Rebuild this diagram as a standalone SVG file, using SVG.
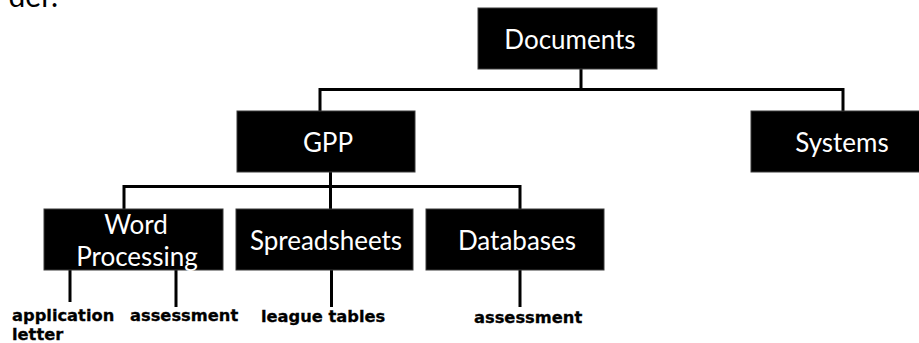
<svg xmlns="http://www.w3.org/2000/svg" width="919" height="343" viewBox="0 0 919 343">
<style>
.box{fill:#000;stroke:#3a3a3a;stroke-width:1}
.lbl{font-family:Lato,"Open Sans",sans-serif;font-size:26px;fill:#fff;text-anchor:middle}
.sub{font-family:"DejaVu Sans",sans-serif;font-weight:bold;font-size:16.3px;fill:#000;stroke:#000;stroke-width:0.3}
.con{stroke:#000;stroke-width:3;fill:none}
</style>
<rect width="919" height="343" fill="#fff"/>
<text x="58" y="7" style="font-family:Lato,sans-serif;font-size:30px;fill:#000;text-anchor:end">der.</text>
<g id="connectors">
<path class="con" d="M581 69V89.5M320 111V89.5H843V111"/>
<path class="con" d="M330.5 172V209M124 209V186.5H520V209"/>
<path class="con" d="M70 270V302M176 270V307M331.5 270V307M520 270V307"/>
</g>
<g id="documents"><rect class="box" x="478" y="8" width="179" height="61"/><text class="lbl" x="570" y="49">Documents</text></g>
<g id="gpp"><rect class="box" x="237" y="111" width="178" height="61"/><text class="lbl" x="328" y="152">GPP</text></g>
<g id="systems"><rect class="box" x="751" y="111" width="170" height="61"/><text class="lbl" x="842" y="152">Systems</text></g>
<g id="word-processing"><rect class="box" x="44" y="209" width="179" height="61"/><text class="lbl" x="136" y="234">Word</text><text class="lbl" x="137" y="266">Processing</text></g>
<g id="spreadsheets"><rect class="box" x="236" y="209" width="177" height="61"/><text class="lbl" x="326" y="250">Spreadsheets</text></g>
<g id="databases"><rect class="box" x="426" y="209" width="178" height="61"/><text class="lbl" x="517" y="250">Databases</text></g>
<g id="application-letter"><text class="sub" x="12" y="321">application</text><text class="sub" x="12" y="340">letter</text></g>
<g id="assessment-1"><text class="sub" x="130" y="321">assessment</text></g>
<g id="league-tables"><text class="sub" x="261" y="322">league tables</text></g>
<g id="assessment-2"><text class="sub" x="474" y="323">assessment</text></g>
</svg>
